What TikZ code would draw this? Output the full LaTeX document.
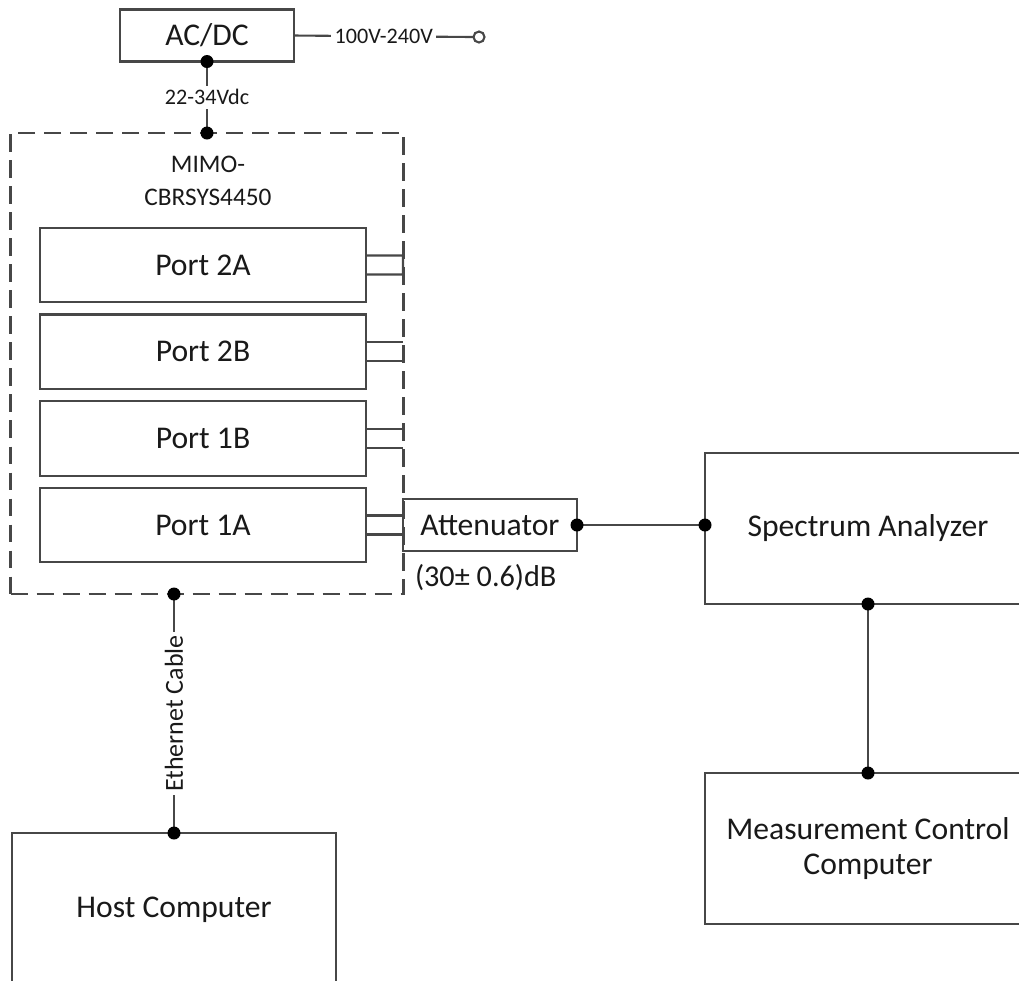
\documentclass[tikz,border=0pt]{standalone}
\usepackage{fontspec}
\setmainfont{Carlito}
\usepackage{tikz}

\begin{document}
\begin{tikzpicture}[line width=0.6pt, color=black!72, text=black!90,
  every node/.style={inner sep=0pt, outer sep=0pt, font=\fontsize{9}{11}\selectfont},
  box/.style={draw, rectangle, align=center},
  dot/.style={circle, fill=black, minimum size=0.13cm},
  small/.style={font=\fontsize{6.3}{8}\selectfont, fill=white, inner sep=1pt}]
\clip (0,0) rectangle (10.19,-9.80);
\useasboundingbox (0,0) rectangle (10.19,-9.80);

\node[box, minimum width=1.74cm, minimum height=0.52cm] (acdc) at (2.07,-0.355) {AC/DC};
\node[draw, circle, fill=white, minimum size=0.11cm] (plug) at (4.79,-0.37) {};

\node[draw, dashed, dash pattern=on 5pt off 2.4pt, minimum width=3.93cm, minimum height=4.61cm] (mimo) at (2.07,-3.635) {};
\node[font=\fontsize{7.2}{9}\selectfont] (mimotop) at (2.08,-1.64) {MIMO-};
\node[font=\fontsize{7.2}{9}\selectfont] (mimobot) at (2.08,-1.97) {CBRSYS4450};

\node[box, minimum width=3.26cm, minimum height=0.745cm] (port2a) at (2.03,-2.65) {Port 2A};
\node[box, minimum width=3.26cm, minimum height=0.745cm] (port2b) at (2.03,-3.517) {Port 2B};
\node[box, minimum width=3.26cm, minimum height=0.745cm] (port1b) at (2.03,-4.383) {Port 1B};
\node[box, minimum width=3.26cm, minimum height=0.745cm] (port1a) at (2.03,-5.25) {Port 1A};

\node[box, minimum width=1.74cm, minimum height=0.52cm] (atten) at (4.90,-5.25) {Attenuator};
\node[anchor=west, font=\fontsize{8.6}{10}\selectfont] (attval) at (4.15,-5.78) {(30± 0.6)dB};

\node[box, minimum width=3.26cm, minimum height=1.51cm] (specan) at (8.68,-5.285) {Spectrum Analyzer};
\node[box, minimum width=3.26cm, minimum height=1.51cm] (mcc) at (8.68,-8.485) {Measurement Control\\[-1pt]Computer};
\node[box, minimum width=3.24cm, minimum height=1.54cm] (host) at (1.74,-9.10) {Host Computer};

% power
\draw (acdc.east) -- node[small] {100V-240V} (plug.west);
\draw (acdc.south) -- node[small] {22-34Vdc} (mimo.north);
\node[dot] at (acdc.south) {};
\node[dot] at (mimo.north) {};

% port stubs
\draw ([yshift=0.095cm]port2a.east) -- ++(0.37,0) -- ++(0,-0.19) -- ([yshift=-0.095cm]port2a.east);
\draw ([yshift=0.095cm]port2b.east) -- ++(0.37,0);
\draw ([yshift=-0.095cm]port2b.east) -- ++(0.37,0);
\draw ([yshift=0.095cm]port1b.east) -- ++(0.37,0);
\draw ([yshift=-0.095cm]port1b.east) -- ++(0.37,0);
\draw ([yshift=0.095cm]port1a.east) -- ([yshift=0.095cm]atten.west);
\draw ([yshift=-0.095cm]port1a.east) -- ([yshift=-0.095cm]atten.west);

% rf and control
\draw (atten.east) -- (atten.east -| specan.west);
\node[dot] at (atten.east) {};
\node[dot] at (atten.east -| specan.west) {};
\draw (specan.south) -- (mcc.north);
\node[dot] at (specan.south) {};
\node[dot] at (mcc.north) {};

% ethernet
\draw (host.north |- mimo.south) -- node[small, rotate=90, font=\fontsize{7.4}{9}\selectfont] {Ethernet Cable} (host.north);
\node[dot] at (host.north |- mimo.south) {};
\node[dot] at (host.north) {};
\end{tikzpicture}
\end{document}
